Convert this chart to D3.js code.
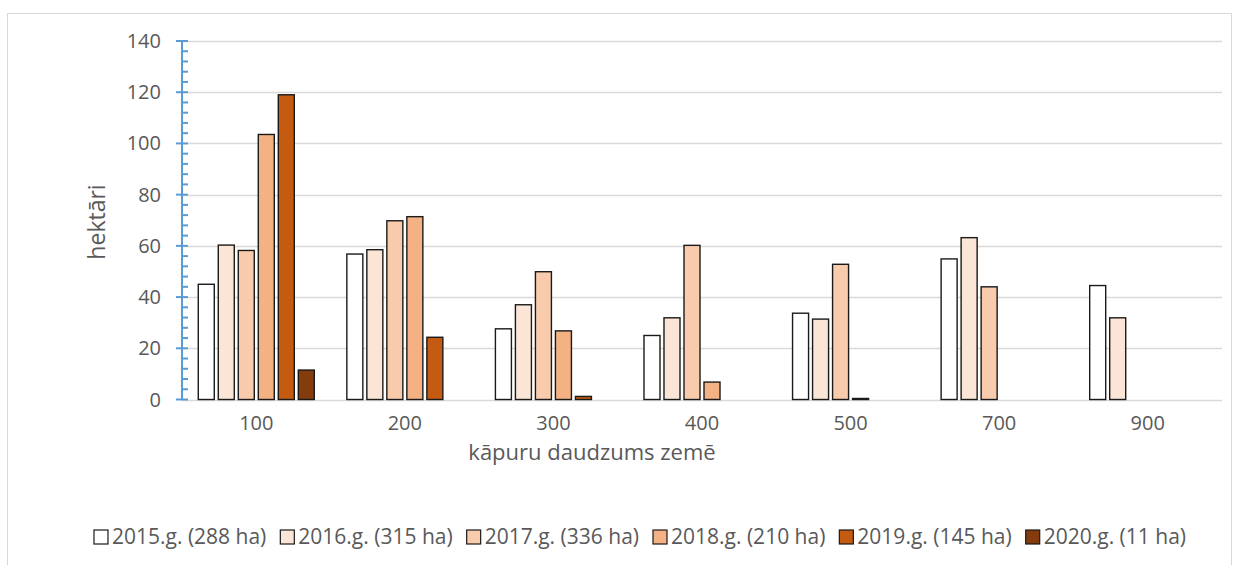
<!DOCTYPE html>
<html>
<head>
<meta charset="utf-8">
<script src="https://cdn.jsdelivr.net/npm/d3@7"></script>
<style>
  html, body { margin: 0; padding: 0; background: #fff; }
  svg { display: block; font-family: "Open Sans", Lato, sans-serif; }
</style>
</head>
<body>
<svg id="chart" width="1251" height="565"></svg>
<script>
// Larvae density classes (x axis)
const categories = ["100", "200", "300", "400", "500", "700", "900"];

// Series: area in hectares per year, one value per density class
const seriesNames = [
  "2015.g. (288 ha)", "2016.g. (315 ha)", "2017.g. (336 ha)",
  "2018.g. (210 ha)", "2019.g. (145 ha)", "2020.g. (11 ha)"
];
const v2015 = [45.0, 56.8, 27.6, 25.0, 33.7, 54.9, 44.5];
const v2016 = [60.3, 58.5, 37.0, 31.9, 31.4, 63.2, 31.9];
const v2017 = [58.2, 69.8, 49.9, 60.2, 52.8, 44.0, null];
const v2018 = [103.5, 71.4, 26.8, 6.8, 0.4, null, null];
const v2019 = [119.0, 24.3, 1.2, null, null, null, null];
const v2020 = [11.5, null, null, null, null, null, null];
const seriesValues = [v2015, v2016, v2017, v2018, v2019, v2020];
const seriesColors = ["#ffffff", "#fbe5d6", "#f8cbad", "#f4b183", "#c55a11", "#843c0c"];

const yTicks = [0, 20, 40, 60, 80, 100, 120, 140];
const yTitle = "hektāri";
const xTitle = "kāpuru daudzums zemē";

const svg = d3.select("#chart");
const plot = { left: 182, right: 1222, top: 41, bottom: 399.5 };

// Outer chart frame
svg.append("rect")
  .attr("x", 7.5).attr("y", 13.5)
  .attr("width", 1224).attr("height", 600)
  .attr("fill", "none").attr("stroke", "#d9d9d9").attr("stroke-width", 1);

const y = d3.scaleLinear().domain([0, 140]).range([plot.bottom, plot.top]);
const x0 = d3.scaleBand().domain(categories)
  .range([plot.left, plot.right]).paddingInner(0.219).paddingOuter(0.1095);
const x1 = d3.scaleBand().domain(d3.range(seriesNames.length))
  .range([0, x0.bandwidth()]).paddingInner(0.2).paddingOuter(0);

// Horizontal gridlines
svg.append("g")
  .selectAll("line")
  .data(yTicks)
  .join("line")
  .attr("x1", plot.left).attr("x2", plot.right)
  .attr("y1", d => Math.round(y(d)) + 0.5).attr("y2", d => Math.round(y(d)) + 0.5)
  .attr("stroke", "#d9d9d9").attr("stroke-width", 1.5);

// Bars
const groups = svg.append("g")
  .selectAll("g")
  .data(categories)
  .join("g")
  .attr("transform", d => `translate(${x0(d)},0)`);

groups.selectAll("rect")
  .data((c, ci) => seriesValues.map((vals, si) => ({ si, v: vals[ci] })).filter(d => d.v != null))
  .join("rect")
  .attr("x", d => x1(d.si))
  .attr("width", x1.bandwidth())
  .attr("y", d => y(d.v))
  .attr("height", d => Math.max(0, y(0) - y(d.v)))
  .attr("fill", d => seriesColors[d.si])
  .attr("stroke", "#1a1a1a")
  .attr("stroke-width", 1.4);

// Y axis (blue, with major and minor ticks)
const axisColor = "#5b9bd5";
const yAxisG = svg.append("g");
yAxisG.append("line")
  .attr("x1", plot.left).attr("x2", plot.left)
  .attr("y1", y(140)).attr("y2", y(0))
  .attr("stroke", axisColor).attr("stroke-width", 2);
yAxisG.selectAll("line.minor")
  .data(d3.range(0, 141, 4).filter(v => v % 20 !== 0))
  .join("line").attr("class", "minor")
  .attr("x1", plot.left).attr("x2", plot.left + 6)
  .attr("y1", d => y(d)).attr("y2", d => y(d))
  .attr("stroke", axisColor).attr("stroke-width", 2);
yAxisG.selectAll("line.major")
  .data(yTicks)
  .join("line").attr("class", "major")
  .attr("x1", plot.left - 6).attr("x2", plot.left + 6)
  .attr("y1", d => y(d)).attr("y2", d => y(d))
  .attr("stroke", axisColor).attr("stroke-width", 2);

// Y tick labels
svg.append("g")
  .selectAll("text")
  .data(yTicks)
  .join("text")
  .attr("x", 161).attr("y", d => y(d))
  .attr("dy", "0.35em")
  .attr("text-anchor", "end")
  .attr("font-size", 20)
  .attr("fill", "#595959")
  .text(d => d);

// X tick labels
svg.append("g")
  .selectAll("text")
  .data(categories)
  .join("text")
  .attr("x", d => x0(d) + x0.bandwidth() / 2)
  .attr("y", 423).attr("dy", "0.35em")
  .attr("text-anchor", "middle")
  .attr("font-size", 20)
  .attr("fill", "#595959")
  .text(d => d);

// Axis titles
svg.append("text")
  .attr("transform", "translate(97,222) rotate(-90)")
  .attr("text-anchor", "middle").attr("dy", "0.35em")
  .attr("font-size", 23).attr("fill", "#595959")
  .text(yTitle);
svg.append("text")
  .attr("x", 592).attr("y", 452).attr("dy", "0.35em")
  .attr("text-anchor", "middle")
  .attr("font-size", 22).attr("fill", "#595959")
  .text(xTitle);

// Legend, laid out left to right and centered
const legend = svg.append("g").attr("transform", "translate(0,537)");
const items = legend.selectAll("g").data(seriesNames).join("g");
items.append("rect")
  .attr("x", 0).attr("y", -7).attr("width", 14).attr("height", 14)
  .attr("fill", (d, i) => seriesColors[i])
  .attr("stroke", "#1a1a1a").attr("stroke-width", 1.2);
items.append("text")
  .attr("x", 18).attr("dy", "0.35em")
  .attr("font-size", 21).attr("fill", "#595959")
  .text(d => d);
let cursor = 0;
const widths = [];
items.each(function () {
  const w = 18 + this.querySelector("text").getComputedTextLength();
  widths.push(w);
});
const gap = 14;
const total = d3.sum(widths) + gap * (widths.length - 1);
cursor = 640 - total / 2;
items.attr("transform", (d, i) => {
  const t = `translate(${cursor},0)`;
  cursor += widths[i] + gap;
  return t;
});
</script>
</body>
</html>
